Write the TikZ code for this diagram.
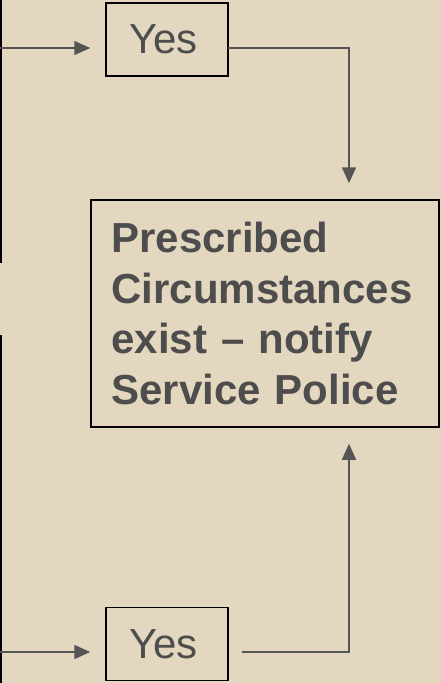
\documentclass[tikz,border=0pt]{standalone}
\usepackage{fontspec}
\setmainfont{Liberation Sans}
\usetikzlibrary{arrows.meta,calc}
\definecolor{bg}{HTML}{E3D7C0}
\definecolor{ink}{HTML}{4D4D4D}
\definecolor{wire}{HTML}{555555}
\tikzset{
  yesbox/.style={draw=black, line width=1.5pt, minimum width=122pt, minimum height=73pt,
    inner sep=0pt, text=ink, font=\fontsize{42}{50}\selectfont},
  bigbox/.style={draw=black, line width=1.5pt, minimum width=348pt, minimum height=227pt,
    inner xsep=20.5pt, inner ysep=0pt, text width=307pt, align=left, text=ink,
    font=\fontsize{42}{50.8}\selectfont\bfseries},
  edgeline/.style={draw=black, line width=2pt},
  wirearrow/.style={draw=wire, line width=1.6pt, -{Triangle[length=16pt,width=14pt]}},
  wireplain/.style={draw=wire, line width=1.6pt}
}
\begin{document}
\begin{tikzpicture}[x=1pt,y=-1pt]
\fill[bg] (0,0) rectangle (441,683);
\useasboundingbox (0,0) rectangle (441,683);
% cut-off boxes at left edge
\coordinate (e1a) at (1,0);
\coordinate (e1b) at (1,263);
\coordinate (e2a) at (1,335);
\coordinate (e2b) at (1,683);
\draw[edgeline] (e1a) -- (e1b);
\draw[edgeline] (e2a) -- (e2b);
% nodes
\node[yesbox] (yes1) at (167,39.5) {Yes\kern7pt};
\node[yesbox] (yes2) at (167,644) {Yes\kern7pt};
\node[bigbox] (res) at (265,313.5) {Prescribed\\Circumstances\\exist -- notify\\Service Police};
% connector endpoints
\coordinate (in1) at (0,48);
\coordinate (in2) at (0,652);
\coordinate (out1) at (228,48);
\coordinate (out2) at (242,652);
\coordinate (c1) at (349,48);
\coordinate (c2) at (349,652);
% connectors
\draw[wirearrow, shorten >=15pt] (in1) -- (yes1.west |- in1);
\draw[wirearrow, shorten >=15pt] (in2) -- (yes2.west |- in2);
\draw[wirearrow, shorten >=16pt] (out1) -- (c1) -- (c1 |- res.north);
\draw[wirearrow, shorten >=16pt] (out2) -- (c2) -- (c2 |- res.south);
\end{tikzpicture}
\end{document}
